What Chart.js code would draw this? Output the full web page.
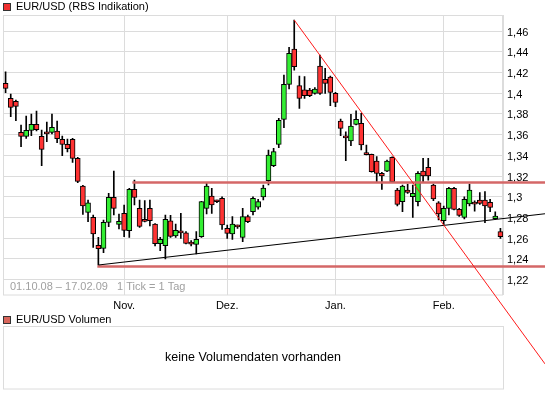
<!DOCTYPE html>
<html><head><meta charset="utf-8">
<script src="https://cdn.jsdelivr.net/npm/chart.js@4/dist/chart.umd.min.js"></script>
<style>html,body{margin:0;padding:0;background:#fff;}#wrap{position:relative;width:545px;height:395px;}</style>
</head><body><div id="wrap"><canvas id="c" width="545" height="395"></canvas></div>
<script>
const DATES = ['01.10.08','02.10.08','03.10.08','06.10.08','07.10.08','08.10.08','09.10.08','10.10.08','13.10.08','14.10.08','15.10.08','16.10.08','17.10.08','20.10.08','21.10.08','22.10.08','23.10.08','24.10.08','27.10.08','28.10.08','29.10.08','30.10.08','31.10.08',
'03.11.08','04.11.08','05.11.08','06.11.08','07.11.08','10.11.08','11.11.08','12.11.08','13.11.08','14.11.08','17.11.08','18.11.08','19.11.08','20.11.08','21.11.08','24.11.08','25.11.08','26.11.08','27.11.08','28.11.08',
'01.12.08','02.12.08','03.12.08','04.12.08','05.12.08','08.12.08','09.12.08','10.12.08','11.12.08','12.12.08','15.12.08','16.12.08','17.12.08','18.12.08','19.12.08','22.12.08','23.12.08','24.12.08','29.12.08','30.12.08','31.12.08',
'02.01.09','05.01.09','06.01.09','07.01.09','08.01.09','09.01.09','12.01.09','13.01.09','14.01.09','15.01.09','16.01.09','19.01.09','20.01.09','21.01.09','22.01.09','23.01.09','26.01.09','27.01.09','28.01.09','29.01.09','30.01.09',
'02.02.09','03.02.09','04.02.09','05.02.09','06.02.09','09.02.09','10.02.09','11.02.09','12.02.09','13.02.09','16.02.09','17.02.09'];
const OPEN = [1.4095,1.3950,1.3921,1.3622,1.3583,1.3641,1.3699,1.3583,1.3610,1.3622,1.3635,1.3554,1.3506,1.3554,1.3371,1.3103,1.2849,1.2801,1.2530,1.2501,1.2752,1.2994,1.2733,
1.2839,1.2672,1.3071,1.2888,1.2781,1.2888,1.2736,1.2546,1.2527,1.2768,1.2620,1.2653,1.2652,1.2544,1.2540,1.2614,1.2888,1.3007,1.2953,1.2984,
1.2694,1.2640,1.2711,1.2607,1.2807,1.2855,1.2900,1.2997,1.3155,1.3300,1.3506,1.3748,1.4086,1.4427,1.4073,1.4034,1.4031,1.3999,1.4263,1.4134,1.4157,
1.3999,1.3731,1.3572,1.3538,1.3699,1.3709,1.3411,1.3409,1.3345,1.3226,1.3248,1.3380,1.3065,1.2952,1.3065,1.3000,1.2952,1.3248,1.3284,1.3113,1.2942,
1.2768,1.2888,1.3081,1.2878,1.2801,1.2930,1.2932,1.2968,1.2968,1.2946,1.2788,1.2662];
const HIGH = [1.4208,1.3992,1.3934,1.3693,1.3780,1.3799,1.3828,1.3644,1.3722,1.3799,1.3731,1.3586,1.3557,1.3564,1.3380,1.3110,1.2968,1.2823,1.2607,1.2775,1.3033,1.3248,1.2833,
1.2920,1.3080,1.3161,1.2968,1.2962,1.2968,1.2740,1.2607,1.2823,1.2820,1.2736,1.2839,1.2662,1.2575,1.2662,1.2955,1.3129,1.3081,1.2968,1.3000,
1.2727,1.2807,1.2727,1.2888,1.2823,1.3000,1.2975,1.3113,1.3451,1.3467,1.3757,1.4176,1.4443,1.4707,1.4166,1.4160,1.4047,1.4054,1.4369,1.4240,1.4166,
1.4008,1.3751,1.3628,1.3796,1.3831,1.3806,1.3500,1.3412,1.3387,1.3235,1.3355,1.3386,1.3081,1.3113,1.3123,1.3113,1.3242,1.3371,1.3371,1.3123,1.2952,
1.2910,1.3091,1.3091,1.2888,1.3000,1.3123,1.2960,1.3039,1.3049,1.2975,1.2855,1.2694];
const LOW = [1.4005,1.3773,1.3735,1.3483,1.3564,1.3590,1.3635,1.3300,1.3532,1.3606,1.3522,1.3396,1.3432,1.3332,1.3136,1.2830,1.2759,1.2511,1.2340,1.2459,1.2711,1.2823,1.2688,
1.2614,1.2607,1.2920,1.2704,1.2756,1.2717,1.2524,1.2479,1.2398,1.2607,1.2607,1.2598,1.2543,1.2524,1.2446,1.2607,1.2833,1.2839,1.2942,1.2685,
1.2598,1.2588,1.2694,1.2566,1.2749,1.2823,1.2880,1.2968,1.3113,1.3290,1.3474,1.3667,1.4041,1.4224,1.3854,1.3950,1.3967,1.3992,1.3989,1.3999,1.3880,
1.3870,1.3590,1.3348,1.3493,1.3693,1.3451,1.3403,1.3238,1.3145,1.3071,1.3242,1.3135,1.2910,1.2855,1.3033,1.2801,1.2910,1.3145,1.3160,1.2962,1.2775,
1.2727,1.2823,1.2872,1.2810,1.2785,1.2910,1.2860,1.2926,1.2749,1.2855,1.2781,1.2598];
const CLOSE = [1.4047,1.3864,1.3873,1.3583,1.3641,1.3699,1.3648,1.3458,1.3607,1.3670,1.3561,1.3506,1.3464,1.3371,1.3148,1.2910,1.2942,1.2640,1.2498,1.2752,1.2994,1.2888,1.2762,
1.2675,1.3071,1.2994,1.2714,1.2762,1.2768,1.2546,1.2588,1.2781,1.2617,1.2675,1.2651,1.2549,1.2542,1.2588,1.2952,1.3103,1.2920,1.2951,1.2727,
1.2646,1.2736,1.2709,1.2807,1.2759,1.2984,1.2952,1.3084,1.3403,1.3435,1.3738,1.4086,1.4385,1.4256,1.3950,1.3976,1.3976,1.4041,1.3999,1.4095,1.4008,
1.3912,1.3661,1.3568,1.3683,1.3748,1.3500,1.3407,1.3242,1.3226,1.3200,1.3345,1.3145,1.2926,1.3103,1.3042,1.3033,1.3226,1.3200,1.3200,1.2978,1.2833,
1.2888,1.3081,1.2878,1.2820,1.2975,1.3065,1.2928,1.2936,1.2910,1.2897,1.2814,1.2614];
const Y_TICKS = [1.22,1.24,1.26,1.28,1.30,1.32,1.34,1.36,1.38,1.40,1.42,1.44,1.46];
const Y_TICK_LABELS = ['1,22','1,24','1,26','1,28','1,3','1,32','1,34','1,36','1,38','1,4','1,42','1,44','1,46'];
const MONTH_NAMES = ['Jan.','Feb.','März','Apr.','Mai','Jun.','Jul.','Aug.','Sep.','Okt.','Nov.','Dez.'];
// trend lines: [category index, value]
const RESISTANCE = [24.6, 1.3137];
const SUPPORT = [17.8, 1.2326];
const TREND_UP = [[18, 1.2340], [96, 1.2786]];
const TREND_DOWN = [[56, 1.4707], [96, 1.1975]];
const TITLE = 'EUR/USD (RBS Indikation)';
const RANGE_TEXT = '01.10.08 \u2013 17.02.09   1 Tick = 1 Tag';
const VOL_TITLE = 'EUR/USD Volumen';
const VOL_EMPTY = 'keine Volumendaten vorhanden';

const monthOf = s => parseInt(s.split('.')[1], 10);
const MONTH_STARTS = DATES.map((d, i) => i).filter(i => i > 0 && monthOf(DATES[i]) !== monthOf(DATES[i - 1]));

const FONT = "'Liberation Sans', Arial, sans-serif";
Chart.defaults.font.family = FONT;
Chart.defaults.font.size = 11;
Chart.defaults.color = '#000';
const GRID = '#dcdcdc';

const overlay = {
  id: 'overlay',
  beforeDatasetsDraw(chart) {
    const {ctx, chartArea: a} = chart;
    ctx.save();
    ctx.strokeStyle = GRID; ctx.lineWidth = 1;
    ctx.strokeRect(a.left + 0.5, a.top + 0.5, a.right - a.left - 1, a.bottom - a.top);
    ctx.fillStyle = '#a0a0a0';
    ctx.font = '11px ' + FONT;
    ctx.textBaseline = 'middle';
    ctx.fillText(RANGE_TEXT, a.left + 7, a.bottom - 8);
    ctx.restore();
  },
  afterDraw(chart) {
    const {ctx, chartArea: a} = chart;
    const xs = chart.scales.x, ys = chart.scales.y;
    const W = chart.width;
    ctx.save();
    ctx.strokeStyle = '#d46767'; ctx.lineWidth = 2.5;
    [RESISTANCE, SUPPORT].forEach(p => {
      const x0 = xs.getPixelForValue(p[0]), y0 = ys.getPixelForValue(p[1]);
      ctx.beginPath(); ctx.moveTo(x0, y0); ctx.lineTo(W, y0); ctx.stroke();
    });
    const seg = (pts, color, w) => {
      const x1 = xs.getPixelForValue(pts[0][0]), y1 = ys.getPixelForValue(pts[0][1]);
      const x2 = xs.getPixelForValue(pts[1][0]), y2 = ys.getPixelForValue(pts[1][1]);
      const ye = y1 + (y2 - y1) * (W - x1) / (x2 - x1);
      ctx.strokeStyle = color; ctx.lineWidth = w;
      ctx.beginPath(); ctx.moveTo(x1, y1); ctx.lineTo(W, ye); ctx.stroke();
    };
    seg(TREND_UP, '#000', 1.1);
    seg(TREND_DOWN, '#ff1a1a', 1);
    ctx.font = '11px ' + FONT; ctx.textBaseline = 'middle'; ctx.fillStyle = '#000';
    ctx.fillText(TITLE, 16, 7);
    ctx.fillStyle = '#f03030'; ctx.fillRect(3, 3, 8, 8);
    ctx.strokeStyle = '#333'; ctx.lineWidth = 1; ctx.strokeRect(3.5, 3.5, 7, 7);
    ctx.fillStyle = '#000';
    ctx.fillText(VOL_TITLE, 16, 319.5);
    ctx.fillStyle = '#d9665c'; ctx.fillRect(3, 316, 8, 8);
    ctx.strokeStyle = '#333'; ctx.strokeRect(3.5, 316.5, 7, 7);
    ctx.strokeStyle = GRID; ctx.lineWidth = 1;
    ctx.strokeRect(a.left + 0.5, 326.5, a.right - a.left, 62.5);
    ctx.fillStyle = '#000'; ctx.font = '12.5px ' + FONT; ctx.textAlign = 'center';
    ctx.fillText(VOL_EMPTY, (a.left + a.right) / 2, 358);
    ctx.restore();
  }
};

new Chart(document.getElementById('c'), {
  type: 'bar',
  data: {
    labels: DATES,
    datasets: [
      {
        label: 'body', order: 0, grouped: false,
        data: DATES.map((d, i) => [OPEN[i], CLOSE[i]]),
        barThickness: 5, minBarLength: 2,
        backgroundColor: c => CLOSE[c.dataIndex] >= OPEN[c.dataIndex] ? '#33ee33' : '#ff3333',
        borderColor: '#000', borderWidth: 1, borderSkipped: false
      },
      {
        label: 'wick', order: 1, grouped: false,
        data: DATES.map((d, i) => [LOW[i], HIGH[i]]),
        barThickness: 1, backgroundColor: '#000', borderWidth: 0
      }
    ]
  },
  options: {
    responsive: false, animation: false,
    layout: {padding: {left: 3, top: 15, right: 0, bottom: 0}},
    plugins: {legend: {display: false}, tooltip: {enabled: false}, title: {display: false}},
    scales: {
      x: {
        type: 'category', offset: true,
        grid: {color: GRID, offset: false, drawTicks: false},
        border: {display: false},
        afterBuildTicks: s => { s.ticks = MONTH_STARTS.map(i => ({value: i})); },
        afterFit: s => { s.height = 100.5; },
        ticks: {autoSkip: false, maxRotation: 0, padding: 5,
          callback: v => MONTH_NAMES[monthOf(DATES[v]) - 1]}
      },
      y: {
        position: 'right', min: 1.2055, max: 1.4756,
        grid: {color: GRID, drawTicks: false},
        border: {display: true, color: GRID},
        afterBuildTicks: s => { s.ticks = Y_TICKS.map(v => ({value: v})); },
        afterFit: s => { s.width = 42; },
        ticks: {padding: 4, labelOffset: 1.5, callback: (v, i) => Y_TICK_LABELS[i]}
      }
    }
  },
  plugins: [overlay]
});
</script></body></html>
